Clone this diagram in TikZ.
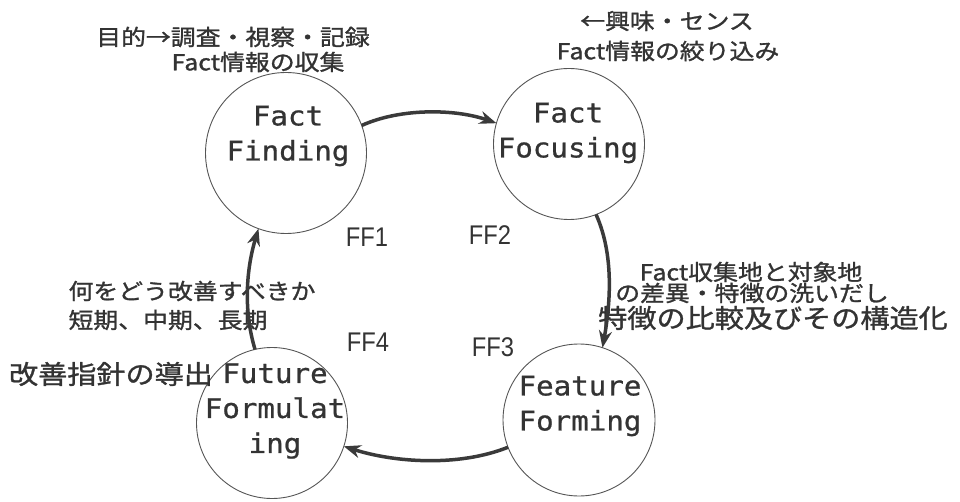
\documentclass[tikz,border=0pt]{standalone}
\usepackage{fontspec}
\usetikzlibrary{arrows.meta,calc}
\newfontfamily\jpsmall[FakeStretch=1.13,FakeBold=1.2]{Noto Sans CJK JP}
\newfontfamily\jpbig[FakeStretch=1.12,FakeBold=1.2]{Noto Sans CJK JP}
\newfontfamily\monofnt[FakeStretch=1.08,FakeBold=0.8]{DejaVu Sans Mono}
\newfontfamily\fflabfnt[FakeStretch=0.88]{Liberation Sans}
\definecolor{ink}{HTML}{333333}
\definecolor{arrowink}{HTML}{3A3A3A}
\definecolor{ringink}{HTML}{555555}
\tikzset{
  ffring/.style={circle, draw=ringink, line width=0.9pt, inner sep=0pt, outer sep=0pt},
  fftext/.style={align=center, text=ink, inner sep=0pt,
    font=\monofnt\fontsize{27}{35}\selectfont},
  fflab/.style={text=ink, inner sep=0pt, font=\fflabfnt\fontsize{27}{30}\selectfont},
  note/.style={text=ink, inner sep=0pt, font=\jpsmall\fontsize{22}{24}\selectfont},
  bignote/.style={text=ink, inner sep=0pt, font=\jpbig\fontsize{26}{28}\selectfont},
  flow/.style={draw=arrowink, line width=3.5pt, -{Stealth[length=17pt,width=13pt]}}
}
\begin{document}
\begin{tikzpicture}[x=1pt,y=-1pt]
\path[use as bounding box] (0,0) rectangle (960,502);
% circles
\node[ffring, minimum size=161pt] (c1) at (286,153) {};
\node[ffring, minimum size=151pt] (c2) at (569,144) {};
\node[ffring, minimum size=152pt] (c3) at (579,420) {};
\node[ffring, minimum size=151pt] (c4) at (272,423) {};
% circle texts
\node[fftext] (t1) at ($(c1)+(2,-17)$) {Fact\\Finding};
\node[fftext] (t2) at ($(c2)+(-1,-11)$) {Fact\\Focusing};
\node[fftext] (t3) at ($(c3)+(1,-14)$) {Feature\\Forming};
\node[fftext] (t4) at ($(c4)+(3,-12)$) {Future\\Formulat\\ing};
% FF labels
\node[fflab] (ff1) at (367,237) {FF1};
\node[fflab] (ff2) at (490,235) {FF2};
\node[fflab] (ff3) at (493,347) {FF3};
\node[fflab] (ff4) at (368,342) {FF4};
% notes
\node[note] (n1) at (233,37) {目的→調査・視察・記録};
\node[note] (n2) at (258,62) {Fact情報の収集};
\node[note] (n3) at (667,21) {←興味・センス};
\node[note] (n4) at (668,51) {Fact情報の絞り込み};
\node[note] (n5) at (751,272) {Fact収集地と対象地};
\node[note] (n6) at (752,293) {の差異・特徴の洗いだし};
\node[bignote] (n7) at (773,318) {特徴の比較及びその構造化};
\node[note] (n8) at (192,291) {何をどう改善すべきか};
\node[note] (n9) at (168,320) {短期、中期、長期};
\node[bignote] (n10) at (111,374) {改善指針の導出};
% flow arrows
\draw[flow] (c1.20) .. controls +(40,-18) and +(-40,-14) .. (c2.164);
\draw[flow] (c2.291) .. controls +(18,40) and +(8,-45) .. (c3.72);
\draw[flow] (c3.201) .. controls +(-50,20) and +(50,16) .. (c4.-18);
\draw[flow] (c4.103) .. controls +(-12,-40) and +(-12,40) .. (c1.250);
\end{tikzpicture}
\end{document}
